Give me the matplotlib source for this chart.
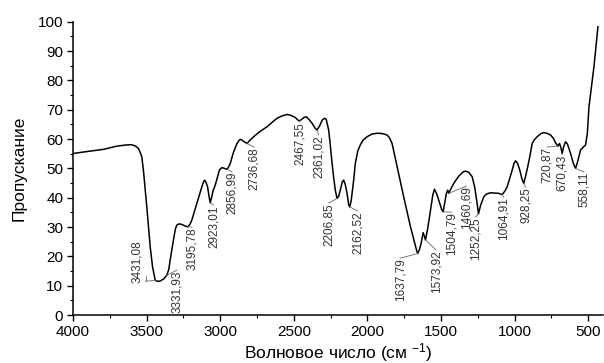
import numpy as np
import matplotlib
matplotlib.use("Agg")
import matplotlib.pyplot as plt
from matplotlib.ticker import MultipleLocator

plt.rcParams['font.family'] = ['Liberation Sans', 'DejaVu Sans']
plt.rcParams['mathtext.default'] = 'regular'

# ИК-спектр: волновое число (см-1) и пропускание (%)
wavenumber = [4000, 3900, 3794, 3703, 3640, 3601, 3575, 3556, 3540, 3533, 3522, 3510, 3499, 3476,
              3460, 3442, 3425, 3408, 3385, 3363, 3350, 3340, 3318, 3305, 3295, 3280, 3261, 3240,
              3220, 3205, 3193, 3159, 3125, 3112, 3105, 3096, 3086, 3075, 3068, 3060, 3048, 3034,
              3022, 3005, 2988, 2970, 2954, 2943, 2932, 2910, 2886, 2870, 2859, 2840, 2818, 2800,
              2773, 2730, 2682, 2650, 2614, 2580, 2546, 2520, 2490, 2475, 2463, 2450, 2430, 2415,
              2400, 2376, 2355, 2342, 2325, 2305, 2290, 2280, 2263, 2250, 2240, 2228, 2218, 2206,
              2195, 2184, 2170, 2161, 2150, 2138, 2127, 2120, 2110, 2093, 2082, 2065, 2048, 2030,
              2002, 1970, 1934, 1900, 1866, 1850, 1832, 1815, 1798, 1753, 1707, 1680, 1665, 1658,
              1645, 1635, 1621, 1613, 1605, 1590, 1571, 1555, 1544, 1530, 1515, 1495, 1485, 1475,
              1463, 1454, 1447, 1430, 1413, 1380, 1350, 1333, 1310, 1288, 1270, 1254, 1245, 1230,
              1209, 1190, 1163, 1130, 1107, 1084, 1065, 1050, 1016, 1003, 993, 980, 964, 950,
              937, 925, 910, 895, 880, 865, 846, 820, 801, 780, 755, 735, 721, 705,
              694, 685, 676, 665, 653, 640, 619, 600, 585, 570, 551, 530, 517, 505,
              494, 460, 433]
transmittance = [55.1, 55.8, 56.5, 57.6, 58.0, 58.1, 57.6, 56.8, 55.0, 54.0, 49.4, 43.0, 36.9, 23.3,
                 16.5, 11.9, 11.5, 11.6, 12.3, 13.6, 15.5, 18.8, 25.6, 29.3, 30.7, 31.1, 30.9, 30.4,
                 30.1, 31.0, 32.4, 38.1, 43.7, 45.6, 46.0, 45.2, 43.7, 40.2, 38.3, 39.8, 42.5, 44.3,
                 46.5, 49.5, 50.3, 50.0, 49.7, 50.5, 51.7, 55.5, 58.5, 59.7, 59.9, 59.2, 58.5, 59.5,
                 60.8, 62.6, 64.2, 65.6, 67.1, 67.9, 68.4, 68.1, 67.4, 66.6, 66.2, 66.6, 67.4, 67.6,
                 66.9, 65.4, 63.7, 63.1, 64.5, 66.6, 67.1, 66.8, 63.1, 57.0, 51.7, 46.5, 42.6, 39.8,
                 40.5, 42.6, 45.5, 46.0, 44.5, 41.5, 37.6, 36.9, 39.0, 46.0, 51.7, 56.0, 58.0, 59.6,
                 60.8, 61.7, 62.0, 61.9, 61.4, 60.5, 58.5, 54.6, 50.6, 40.3, 30.1, 24.8, 22.0, 21.0,
                 22.5, 24.4, 28.1, 27.0, 25.6, 29.5, 35.8, 41.0, 42.9, 41.5, 39.2, 36.0, 35.2, 38.0,
                 41.5, 42.6, 41.5, 43.3, 44.9, 47.3, 48.8, 49.1, 48.6, 47.2, 43.5, 38.0, 34.5, 37.5,
                 40.3, 41.3, 41.7, 41.6, 41.5, 41.1, 42.3, 43.7, 49.4, 51.8, 52.6, 51.8, 49.4, 46.5,
                 44.9, 47.3, 50.6, 54.3, 58.5, 59.8, 60.8, 61.9, 62.2, 62.0, 61.4, 60.2, 58.7, 57.6,
                 58.5, 57.2, 55.1, 57.6, 59.1, 58.3, 55.1, 51.7, 50.0, 52.5, 56.3, 57.4, 58.0, 62.0,
                 71.0, 84.7, 98.3]

# подписи пиков и место на кривой, куда идёт выноска
peak_labels = ['3431,08', '3331,93', '3195,78', '2923,01', '2856,99', '2736,68', '2467,55',
               '2361,02', '2206,85', '2162,52', '1637,79', '1573,92', '1504,79', '1460,69',
               '1252,25', '1064,91', '928,25', '720,87', '670,43', '558,11']
peak_pos = [3440, 3363, 3220, 3068, 2954, 2818, 2463, 2342, 2206, 2120, 1658, 1605, 1485, 1447,
            1245, 1084, 937, 705, 676, 585]

# положение текста (x, верх текста по y) - раскладка
label_xy = [(3567, 25.6), (3295, 15.3), (3193, 30.0), (3046, 37.5), (2920, 48.8), (2769, 57.3),
            (2461, 65.8), (2331, 61.4), (2263, 38.2), (2066, 35.5), (1776, 19.4), (1533, 22.2),
            (1429, 35.1), (1327, 44.0), (1265, 33.4), (1073, 40.2), (925, 43.6), (778, 57.3),
            (678, 54.6), (528, 48.8)]

fig = plt.figure(figsize=(6.04, 3.63), dpi=100)
ax = fig.add_axes([0.121, 0.132, 0.877, 0.808])

ax.plot(wavenumber, transmittance, color='black', lw=1.1)

wn = np.array(wavenumber)[::-1]
tr = np.array(transmittance)[::-1]
for lab, xp, (lx, ly) in zip(peak_labels, peak_pos, label_xy):
    yp = np.interp(xp, wn, tr)
    ax.text(lx, ly, lab, rotation=90, ha='center', va='top', fontsize=8.5, color='#333333')
    if lab == '3431,08':
        # у этой подписи выноска горизонтальная снизу, с засечкой слева
        ax.plot([lx - 60, xp], [yp - 0.3, yp], color='#666666', lw=0.6)
        ax.plot([lx - 60, lx - 60], [yp - 0.3, yp + 1.5], color='#666666', lw=0.6)
    else:
        ax.plot([xp, lx], [yp, ly], color='#666666', lw=0.6)

ax.set_xlim(4000, 400)
ax.set_ylim(0, 100)
ax.xaxis.set_major_locator(MultipleLocator(500))
ax.xaxis.set_minor_locator(MultipleLocator(250))
ax.yaxis.set_major_locator(MultipleLocator(10))
ax.yaxis.set_minor_locator(MultipleLocator(5))
ax.tick_params(which='major', direction='out', length=4.5, width=1, labelsize=11, pad=2.5)
ax.tick_params(which='minor', direction='out', length=2, width=0.8)
for s in ['top', 'right']:
    ax.spines[s].set_visible(False)
for s in ['left', 'bottom']:
    ax.spines[s].set_linewidth(1.1)

ax.set_xlabel('Волновое число (см $^{-1}$)', fontsize=12.5, labelpad=2)
ax.set_ylabel('Пропускание', fontsize=12.5, labelpad=8)

fig.savefig('out.png', dpi=100)
